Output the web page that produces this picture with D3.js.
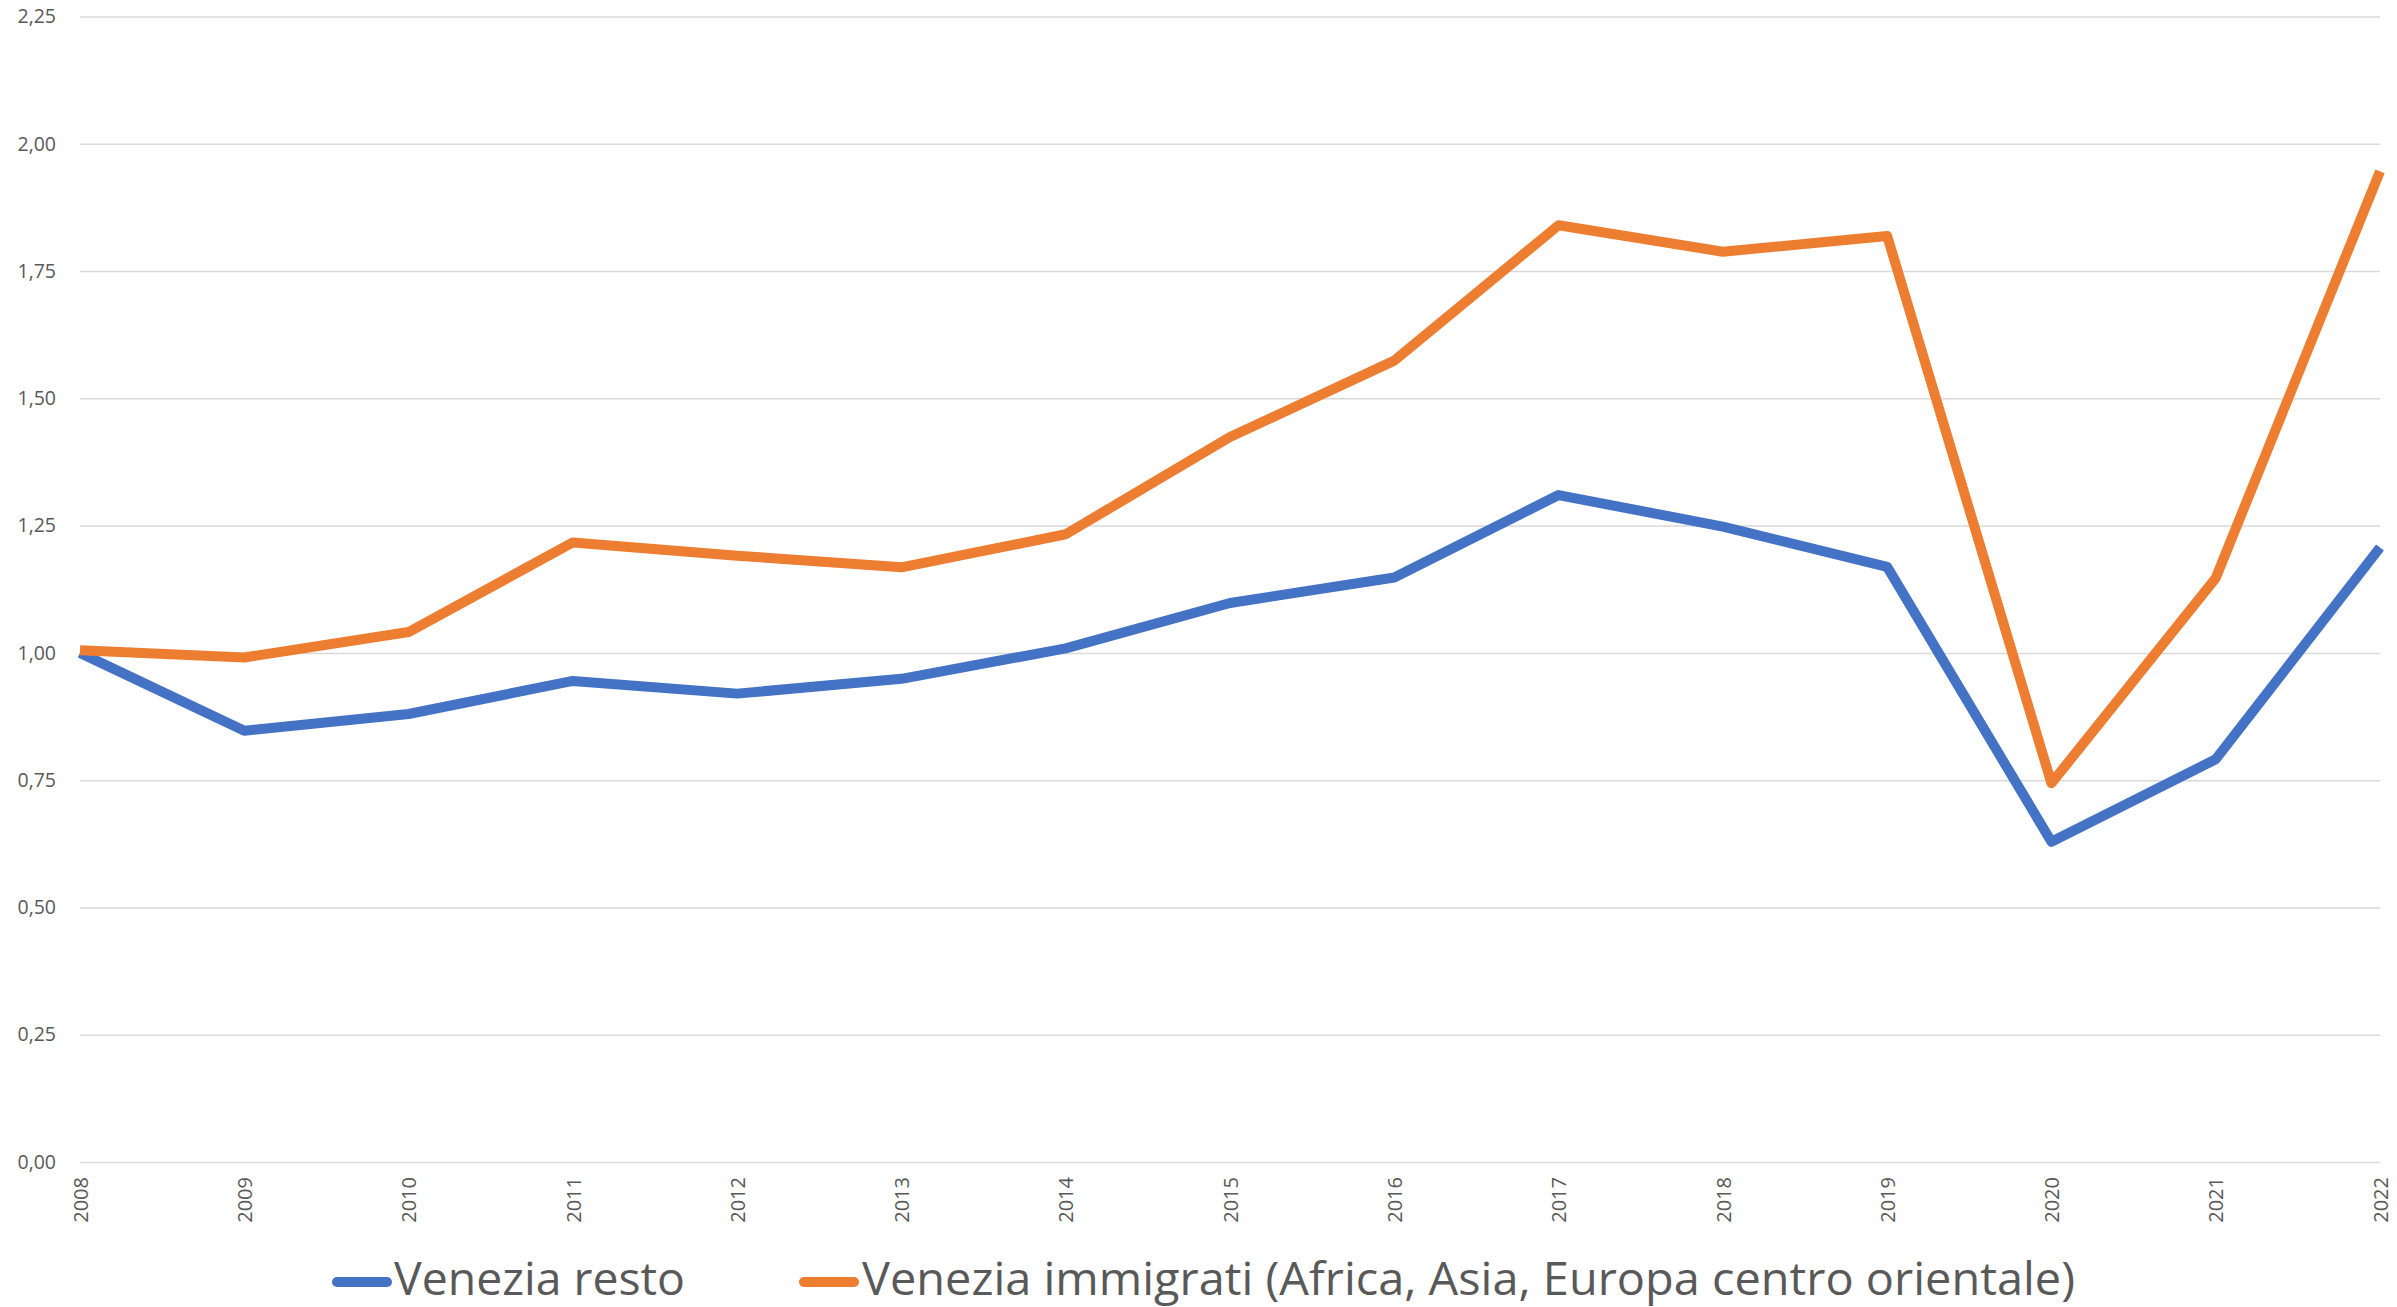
<!DOCTYPE html>
<html>
<head>
<meta charset="utf-8">
<script src="https://cdn.jsdelivr.net/npm/d3@7"></script>
<style>
  body { margin: 0; background: #fff; }
  svg { display: block; }
</style>
</head>
<body>
<svg width="2397" height="1307"></svg>
<script>
// data
var years = [2008, 2009, 2010, 2011, 2012, 2013, 2014, 2015, 2016, 2017, 2018, 2019, 2020, 2021, 2022]
var resto = [1.00, 0.847, 0.880, 0.945, 0.920, 0.949, 1.009, 1.098, 1.148, 1.310, 1.248, 1.169, 0.629, 0.791, 1.207]
var immigrati = [1.005, 0.991, 1.041, 1.217, 1.191, 1.168, 1.233, 1.424, 1.574, 1.840, 1.788, 1.819, 0.744, 1.147, 1.946]
var yTicks = [0, 0.25, 0.5, 0.75, 1, 1.25, 1.5, 1.75, 2, 2.25]
var seriesNames = ['Venezia resto', 'Venezia immigrati (Africa, Asia, Europa centro orientale)']
var colors = ['#4472C4', '#ED7D31']

var svg = d3.select('svg')
var margin = { top: 16.5, right: 17, bottom: 145, left: 80 }
var width = Number(svg.attr('width')) - margin.left - margin.right
var height = Number(svg.attr('height')) - margin.top - margin.bottom
var g = svg.append('g')
  .attr('transform', 'translate(' + margin.left + ',' + margin.top + ')')

var it = d3.formatLocale({ decimal: ',', thousands: '.', grouping: [3], currency: ['€', ''] })
var fmt = it.format('.2f')

var x = d3.scalePoint().domain(years).range([0, width])
var y = d3.scaleLinear().domain([0, 2.25]).range([height, 0])

// gridlines + y labels
var yAxis = g.append('g')
  .call(d3.axisLeft(y).tickValues(yTicks).tickSize(-width).tickPadding(24).tickFormat(fmt))
yAxis.select('.domain').remove()
yAxis.selectAll('line').attr('stroke', '#D9D9D9').attr('stroke-width', 1.5)
yAxis.selectAll('text')
  .attr('fill', '#595959')
  .style('font-family', 'Open Sans, Liberation Sans, sans-serif')
  .style('font-size', '19.5px')

// x labels, rotated
var xAxis = g.append('g')
  .attr('transform', 'translate(0,' + height + ')')
  .call(d3.axisBottom(x).tickSize(0).tickPadding(0))
xAxis.select('.domain').remove()
xAxis.selectAll('text')
  .attr('fill', '#595959')
  .style('font-family', 'Open Sans, Liberation Sans, sans-serif')
  .style('font-size', '20px')
  .attr('transform', 'rotate(-90)')
  .attr('text-anchor', 'end')
  .attr('x', -15)
  .attr('y', 0)
  .attr('dy', '0.36em')

var line = d3.line()
  .x(function (d, i) { return x(years[i]) })
  .y(function (d) { return y(d) })

;[resto, immigrati].forEach(function (s, i) {
  g.append('path')
    .datum(s)
    .attr('fill', 'none')
    .attr('stroke', colors[i])
    .attr('stroke-width', 10)
    .attr('stroke-linejoin', 'round')
    .attr('stroke-linecap', 'butt')
    .attr('d', line)
})

// legend
var legendItems = [
  { sx: 337, tx: 394, tw: 291 },
  { sx: 804, tx: 862, tw: 1213 }
]
var leg = svg.append('g')
legendItems.forEach(function (d, i) {
  leg.append('line')
    .attr('x1', d.sx).attr('x2', d.sx + 50)
    .attr('y1', 1282).attr('y2', 1282)
    .attr('stroke', colors[i])
    .attr('stroke-width', 10)
    .attr('stroke-linecap', 'round')
  leg.append('text')
    .attr('x', d.tx)
    .attr('y', 1295)
    .attr('fill', '#595959')
    .style('font-family', 'Open Sans, Liberation Sans, sans-serif')
    .style('font-size', '45px')
    .attr('textLength', d.tw)
    .attr('lengthAdjust', 'spacingAndGlyphs')
    .text(seriesNames[i])
})
</script>
</body>
</html>
